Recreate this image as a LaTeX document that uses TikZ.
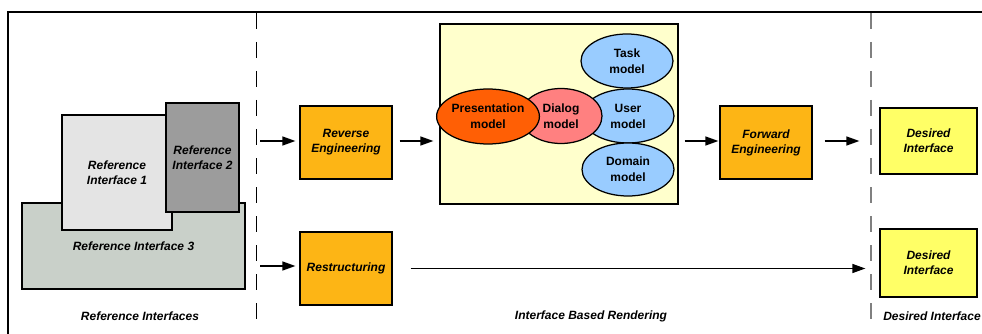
\documentclass[tikz,border=0pt]{standalone}
\usepackage{fontspec}
\setmainfont{Liberation Sans}
\usepackage{xcolor}
\usepackage{tikz}
\usetikzlibrary{shapes.geometric,arrows.meta}

\definecolor{refone}{HTML}{E4E4E4}
\definecolor{reftwo}{HTML}{9C9C9C}
\definecolor{refthree}{HTML}{C9D0C9}
\definecolor{procorange}{HTML}{FDB515}
\definecolor{modelbg}{HTML}{FFFFCC}
\definecolor{presorange}{HTML}{FF5F05}
\definecolor{dialogred}{HTML}{FF8080}
\definecolor{modelblue}{HTML}{99CCFF}
\definecolor{desiredyellow}{HTML}{FFFF66}

\tikzset{
    box/.style={draw, line width=1.25pt, rectangle, inner sep=0pt, align=center,
        font=\fontsize{12}{15}\selectfont\bfseries\itshape},
    model/.style={draw, line width=1.25pt, ellipse, inner sep=0pt, align=center,
        font=\fontsize{12}{16}\selectfont\bfseries},
    flow/.style={line width=1.3pt, -{Triangle[length=13pt,width=9pt]}},
    caption/.style={font=\fontsize{12}{15}\selectfont\bfseries\itshape},
}

\begin{document}
\begin{tikzpicture}[x=1pt, y=-1pt]
            \useasboundingbox (0,0) rectangle (982,334);

            % frame and column separators
            \draw[line width=1.3pt] (8,334) -- (8,12) -- (982,12);
            \draw[line width=1pt, dash pattern=on 16pt off 13pt] (256,13) -- (256,322);
            \draw[gray, line width=1.2pt, dash pattern=on 16pt off 13pt] (871,13) -- (871,322);

            % reference interfaces
            \node[box, fill=refthree, minimum width=223pt, minimum height=86pt] (ref3) at (133.5,246) {Reference Interface 3};
            \node[box, fill=refone, minimum width=110pt, minimum height=115pt] (ref1) at (117,172.5) {Reference\\Interface 1};
            \node[box, fill=reftwo, minimum width=73pt, minimum height=109pt] (ref2) at (202.5,157.5) {Reference\\Interface 2};

            \coordinate (in1) at (260,141);
            \coordinate (in2) at (260,266);

            % processes
            \node[box, fill=procorange, minimum width=92pt, minimum height=73pt] (reverse) at (346,142.5) {Reverse\\Engineering};
            \node[box, fill=procorange, minimum width=92pt, minimum height=73pt] (restruct) at (346,268.5) {Restructuring};
            \node[box, fill=procorange, minimum width=92pt, minimum height=73pt] (forward) at (766,142.5) {Forward\\Engineering};

            % models
            \node[box, fill=modelbg, minimum width=238pt, minimum height=180pt] (models) at (559,114) {};
            \node[model, fill=modelblue, minimum width=92pt, minimum height=54pt] (user) at (628,116) {User\\model};
            \node[model, fill=modelblue, minimum width=92pt, minimum height=54pt] (task) at (627,61) {Task\\model};
            \node[model, fill=modelblue, minimum width=92pt, minimum height=53pt] (domain) at (628,169.5) {Domain\\model};
            \node[model, fill=dialogred, minimum width=82pt, minimum height=55pt] (dialog) at (561,116) {Dialog\\model};
            \node[model, fill=presorange, minimum width=92pt, minimum height=55pt] (pres) at (488,116.5) {Presentation\\model};

            % desired interfaces
            \node[box, fill=desiredyellow, minimum width=97pt, minimum height=66pt] (desired1) at (928.5,141) {Desired\\Interface};
            \node[box, fill=desiredyellow, minimum width=97pt, minimum height=68pt] (desired2) at (928.5,263) {Desired\\Interface};

            \draw[flow, shorten >=4pt] (in1) -- (reverse.west |- in1);
            \draw[flow, shorten >=4pt] (in2) -- (restruct.west |- in2);
            \draw[flow, shorten <=7pt, shorten >=6pt] (reverse.east |- in1) -- (models.west |- in1);
            \draw[flow, shorten <=6pt, shorten >=1pt] (models.east |- in1) -- (forward.west |- in1);
            \draw[flow, shorten <=12pt, shorten >=20pt] (forward.east |- in1) -- (desired1.west |- in1);
            \draw[flow, shorten <=18pt, shorten >=14pt] (restruct.east) -- (desired2.west |- restruct.east);

            % column captions
            \node[caption] (capref) at (140,316) {Reference Interfaces};
            \node[caption] (caprender) at (591,316) {Interface Based Rendering};
            \node[caption] (capdesired) at (932,316) {Desired Interface};
\end{tikzpicture}
\end{document}
